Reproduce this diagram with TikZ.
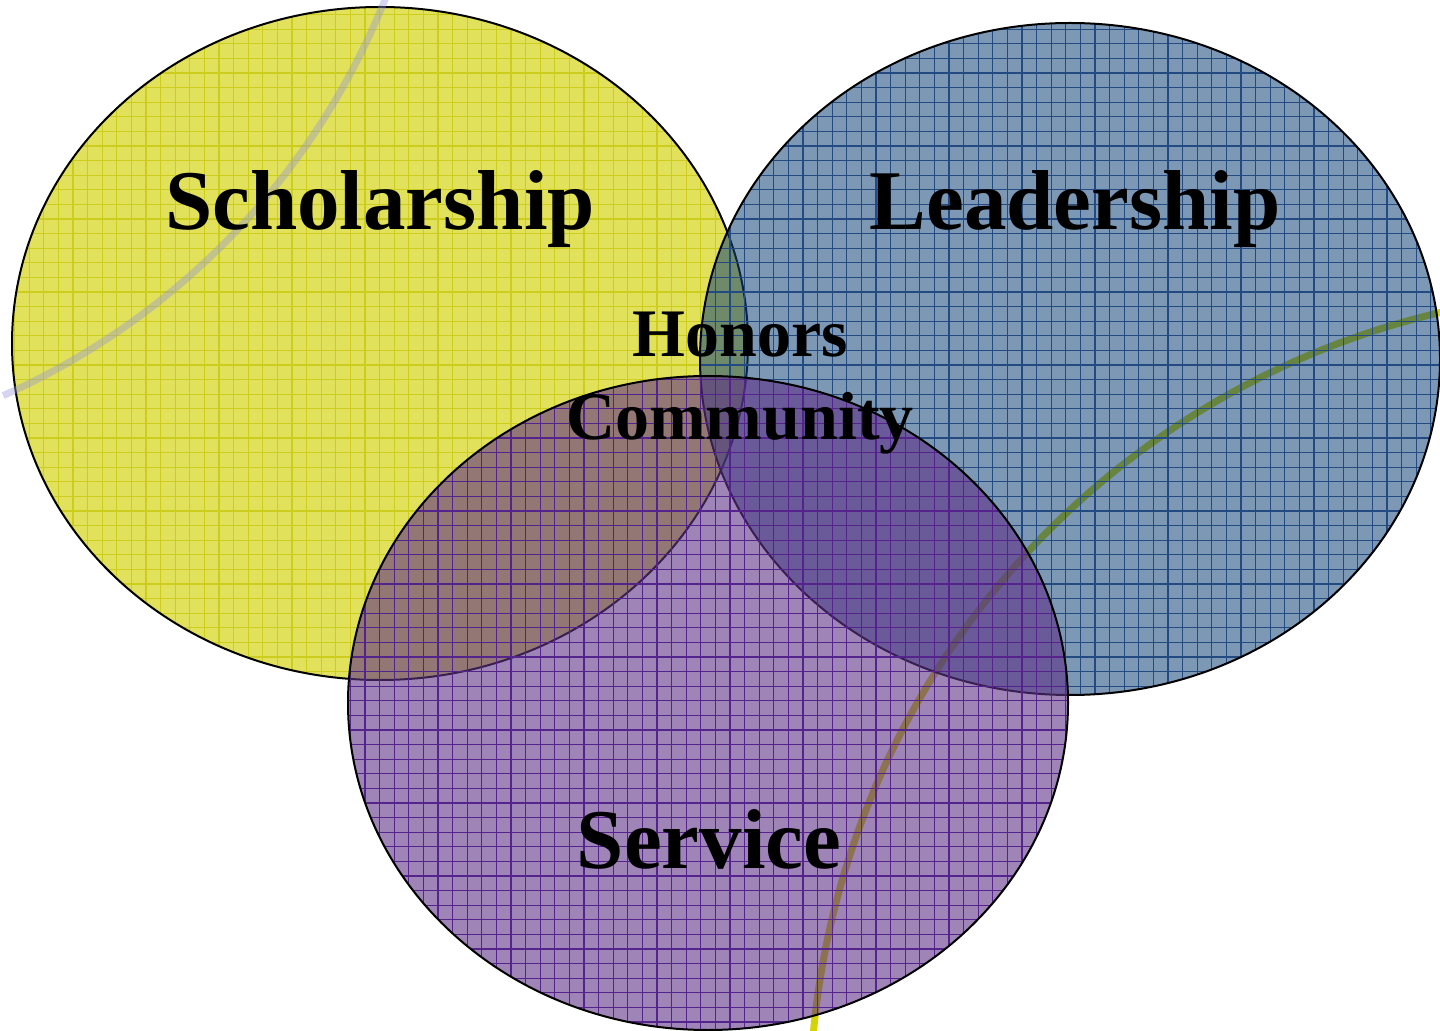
\documentclass[tikz,border=0pt]{standalone}
\usepackage{fontspec}
\setmainfont{Liberation Serif}
\definecolor{yfill}{RGB}{212,212,22}
\definecolor{bfill}{RGB}{17,68,120}
\definecolor{pfill}{RGB}{95,50,135}
\definecolor{ygrid}{RGB}{205,205,30}
\definecolor{bgrid}{RGB}{35,75,130}
\definecolor{pgrid}{RGB}{85,35,140}
\definecolor{lav}{RGB}{150,150,215}
\definecolor{yarc}{RGB}{212,212,0}
\tikzset{
  border/.style={draw=black,line width=1pt},
  gridline/.style={line width=0.6pt},
  biglbl/.style={anchor=base,inner sep=0pt,font=\fontsize{42.5}{50}\selectfont\bfseries},
  midlbl/.style={anchor=base,inner sep=0pt,font=\fontsize{34}{41.5}\selectfont\bfseries},
}
\newcommand{\gridin}[1]{%
  \foreach \i in {0,...,99}{\draw[gridline,#1] ({\i*14.6},0) -- ({\i*14.6},1031);}%
  \foreach \i in {0,...,71}{\draw[gridline,#1] (0,{\i*14.6}) -- (1440,{\i*14.6});}%
}
\begin{document}
\begin{tikzpicture}[x=0.5pt,y=-0.5pt]
\useasboundingbox (0,0) rectangle (1440,1031);
\clip (0,0) rectangle (1440,1031);
% yellow arc (underneath)
\draw[yarc,line width=3.5pt] (1626,1107) ++(-76.8:816) arc[start angle=-76.8,end angle=-180,radius=816];
% yellow ellipse
\begin{scope}
  \clip (380,343.5) ellipse [x radius=368,y radius=336.5];
  \fill[yfill,fill opacity=0.7] (0,0) rectangle (1440,1031);
  \gridin{ygrid}
\end{scope}
\draw[border] (380,343.5) ellipse [x radius=368,y radius=336.5];
% blue ellipse
\begin{scope}
  \clip (1070,359) ellipse [x radius=370,y radius=336];
  \fill[bfill,fill opacity=0.55] (0,0) rectangle (1440,1031);
  \gridin{bgrid}
\end{scope}
\draw[border] (1070,359) ellipse [x radius=370,y radius=336];
% purple ellipse
\begin{scope}
  \clip (708,703) ellipse [x radius=360,y radius=327];
  \fill[pfill,fill opacity=0.6] (0,0) rectangle (1440,1031);
  \gridin{pgrid}
\end{scope}
\draw[border] (708,703) ellipse [x radius=360,y radius=327];
% lavender arc (on top, translucent)
\draw[lav,line width=3.5pt,draw opacity=0.4] (-295,-274) ++(66:733) arc[start angle=66,end angle=20,radius=733];
% labels
\node[biglbl] (sch) at (380,230) {Scholarship};
\node[biglbl] (lead) at (1075,230) {Leadership};
\node[biglbl] (serv) at (709,868) {Service};
\node[midlbl] (hon) at (740,357) {Honors};
\node[midlbl] (comm) at (740,440) {Community};
\end{tikzpicture}
\end{document}
